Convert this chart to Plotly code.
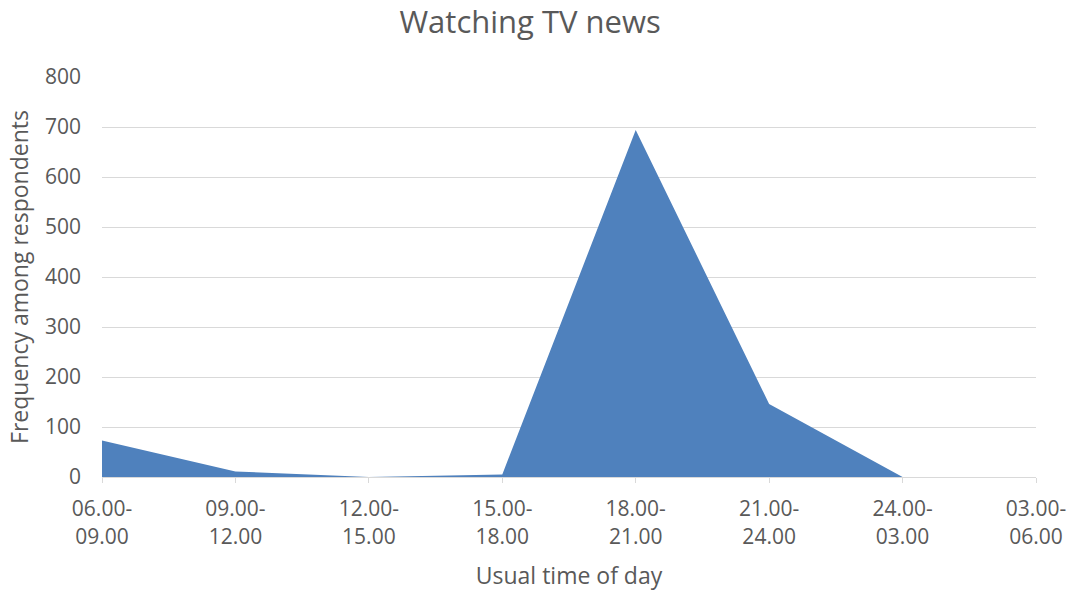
import plotly.graph_objects as go

# Usual time slot for watching TV news and number of respondents
time_slots = ["06.00-<br>09.00", "09.00-<br>12.00", "12.00-<br>15.00", "15.00-<br>18.00",
              "18.00-<br>21.00", "21.00-<br>24.00", "24.00-<br>03.00", "03.00-<br>06.00"]
frequency = [73, 11, 0, 5, 694, 146, 0, 0]

y_ticks = [0, 100, 200, 300, 400, 500, 600, 700, 800]

TEXT = "#595959"
GRID = "#d9d9d9"
FONT = "Open Sans"

fig = go.Figure(
    go.Scatter(
        x=time_slots,
        y=frequency,
        mode="lines",
        fill="tozeroy",
        fillcolor="#4f81bd",
        line=dict(width=0, color="#4f81bd"),
        hoverinfo="x+y",
    )
)

fig.update_layout(
    width=1071,
    height=591,
    margin=dict(l=102, r=35, t=77, b=114),
    paper_bgcolor="white",
    plot_bgcolor="white",
    showlegend=False,
    font=dict(family=FONT, color=TEXT, size=20),
    title=dict(
        text="Watching TV news",
        x=0.495,
        xref="container",
        xanchor="center",
        y=0.963,
        yref="container",
        yanchor="middle",
        font=dict(family=FONT, size=31, color=TEXT),
    ),
    xaxis=dict(
        type="category",
        range=[0, len(time_slots) - 1],
        automargin=False,
        showgrid=False,
        showline=True,
        linecolor=GRID,
        linewidth=1,
        ticks="outside",
        ticklen=5,
        tickcolor=GRID,
        tickfont=dict(family=FONT, size=21, color=TEXT),
        ticklabelstandoff=8,
        title=dict(text="Usual time of day", standoff=20,
                   font=dict(family=FONT, size=23, color=TEXT)),
        zeroline=False,
    ),
    yaxis=dict(
        range=[0, 800],
        tickvals=y_ticks,
        automargin=False,
        showgrid=True,
        gridcolor=GRID,
        gridwidth=1,
        showline=False,
        zeroline=False,
        ticks="",
        tickfont=dict(family=FONT, size=21, color=TEXT),
        ticklabelstandoff=20,
        title=dict(text="Frequency among respondents", standoff=9,
                   font=dict(family=FONT, size=23, color=TEXT)),
    ),
)

fig.write_html("out.html")
